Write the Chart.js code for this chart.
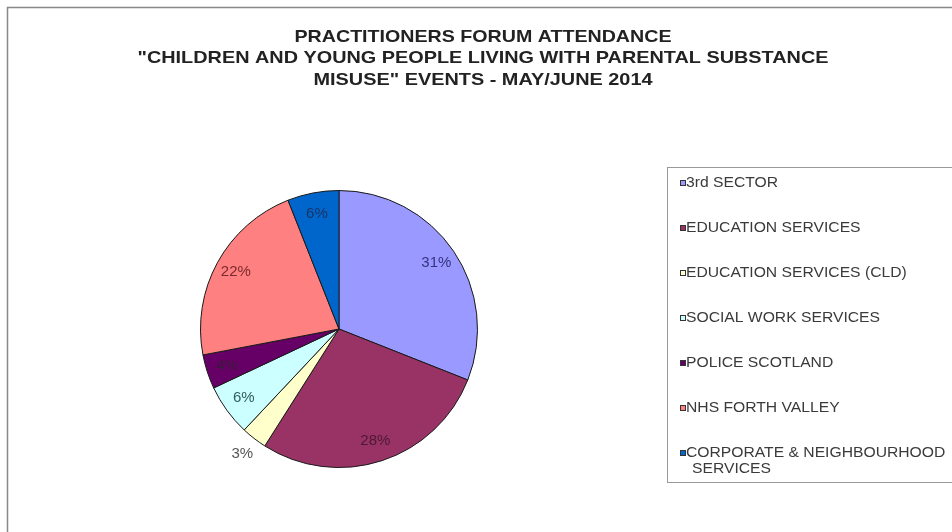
<!DOCTYPE html>
<html>
<head>
	<title>Practitioners forum attendance</title>
	<script src="https://cdn.jsdelivr.net/npm/chart.js@4"></script>
	<style>
		body { margin: 0; background: #fff; }
	</style>
</head>
<body>
	<canvas id="chart" width="952" height="532"></canvas>

	<script type="text/javascript">
		// data
		var services = ['3rd SECTOR', 'EDUCATION SERVICES', 'EDUCATION SERVICES (CLD)', 'SOCIAL WORK SERVICES',
			'POLICE SCOTLAND', 'NHS FORTH VALLEY', 'CORPORATE & NEIGHBOURHOOD SERVICES'];
		var attendance = [31, 28, 3, 6, 4, 22, 6];
		var titleLines = ['PRACTITIONERS FORUM ATTENDANCE',
			'"CHILDREN AND YOUNG PEOPLE LIVING WITH PARENTAL SUBSTANCE',
			'MISUSE" EVENTS - MAY/JUNE 2014'];

		var sliceColors = ['#9999FF', '#993366', '#FFFFCC', '#CCFFFF', '#660066', '#FF8080', '#0066CC'];
		var labelColors = ['#333380', '#4a1a33', '#555555', '#2f5f5f', '#3a1a3a', '#7a2a30', '#1a3366'];

		var FONT = '"Liberation Sans", Arial, sans-serif';

		// draws text squeezed/stretched a bit sideways
		function wideText(ctx, text, x, y, sx) {
			ctx.save();
			ctx.translate(x, y);
			ctx.scale(sx, 1);
			ctx.fillText(text, 0, 0);
			ctx.restore();
		}

		// frame + title + legend + percent labels
		var decor = {
			id: 'decor',
			beforeDraw: function (chart) {
				var ctx = chart.ctx;
				ctx.save();
				ctx.fillStyle = '#fff';
				ctx.fillRect(0, 0, chart.width, chart.height);
				ctx.strokeStyle = '#888';
				ctx.lineWidth = 1.5;
				ctx.beginPath();
				ctx.moveTo(7.5, chart.height + 2);
				ctx.lineTo(7.5, 7.5);
				ctx.lineTo(chart.width + 2, 7.5);
				ctx.stroke();

				// title
				ctx.fillStyle = '#222';
				ctx.font = 'bold 17px ' + FONT;
				ctx.textAlign = 'center';
				ctx.textBaseline = 'middle';
				var widths = [377, 691, 339];
				titleLines.forEach(function (t, i) {
					var w = ctx.measureText(t).width;
					wideText(ctx, t, 483, 37 + i * 21.5, widths[i] / w);
				});
				ctx.restore();
			},
			afterDraw: function (chart) {
				var ctx = chart.ctx;
				var meta = chart.getDatasetMeta(0);
				ctx.save();

				// legend
				ctx.strokeStyle = '#999';
				ctx.lineWidth = 1;
				ctx.strokeRect(667.5, 167.5, 300, 315);
				ctx.font = '14px ' + FONT;
				ctx.textAlign = 'left';
				ctx.textBaseline = 'middle';
				services.forEach(function (name, i) {
					var y = 183 + i * 45;
					ctx.fillStyle = sliceColors[i];
					ctx.fillRect(680, y - 3, 6, 6);
					ctx.strokeStyle = '#333';
					ctx.strokeRect(680.5, y - 2.5, 5, 5);
					ctx.fillStyle = '#3a3a3a';
					if (name.indexOf('CORPORATE') === 0) {
						wideText(ctx, 'CORPORATE & NEIGHBOURHOOD', 686, y, 1.12);
						wideText(ctx, 'SERVICES', 692, y + 16, 1.12);
					} else {
						wideText(ctx, name, 686, y, 1.12);
					}
				});

				// percent labels
				var total = attendance.reduce(function (a, b) { return a + b; }, 0);
				ctx.font = '15px ' + FONT;
				ctx.textAlign = 'center';
				meta.data.forEach(function (arc, i) {
					var p = arc.getProps(['x', 'y', 'startAngle', 'endAngle', 'outerRadius'], true);
					var mid = (p.startAngle + p.endAngle) / 2;
					var pct = Math.round(attendance[i] / total * 100);
					var r = pct < 4 ? p.outerRadius * 1.14 : p.outerRadius * 0.85;
					ctx.fillStyle = labelColors[i];
					ctx.fillText(pct + '%', p.x + Math.cos(mid) * r, p.y + Math.sin(mid) * r);
				});
				ctx.restore();
			}
		};

		var config = {
			type: 'pie',
			data: {
				labels: services,
				datasets: [{
					data: attendance,
					backgroundColor: sliceColors,
					borderColor: '#1a1a1a',
					borderWidth: 1
				}]
			},
			options: {
				responsive: false,
				animation: false,
				layout: {
					padding: { left: 200, right: 474, top: 190, bottom: 64 }
				},
				plugins: {
					legend: { display: false },
					title: { display: false },
					tooltip: { enabled: false }
				}
			},
			plugins: [decor]
		};

		var ctx = document.getElementById('chart').getContext('2d');
		var chart = new Chart(ctx, config);
	</script>
</body>
</html>
